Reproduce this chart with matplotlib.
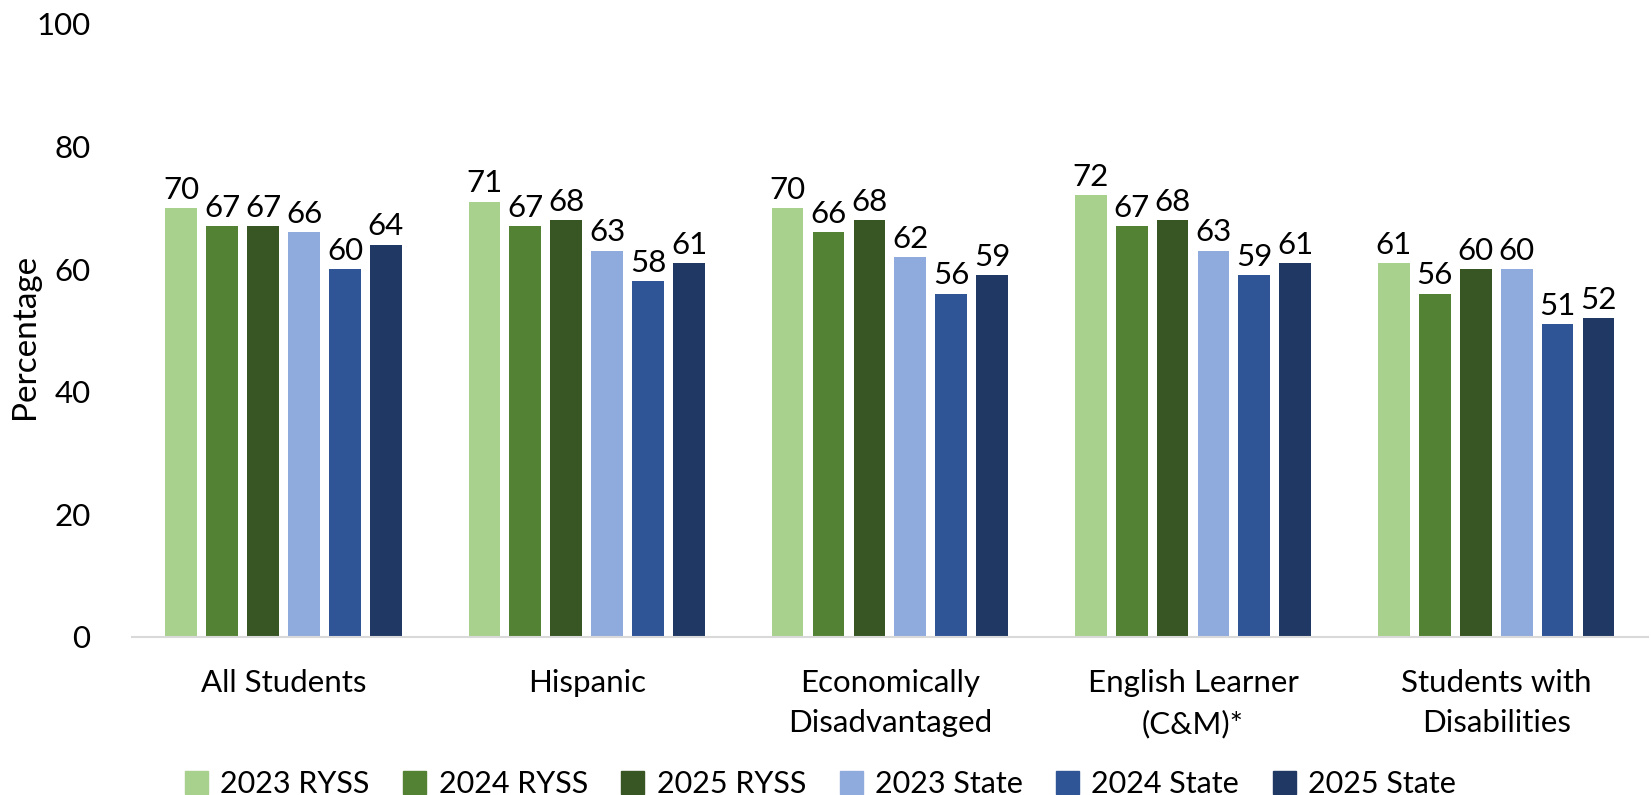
import numpy as np
import matplotlib.pyplot as plt
from matplotlib.patches import Patch

categories = ["All Students", "Hispanic", "Economically\nDisadvantaged",
              "English Learner\n(C&M)*", "Students with\nDisabilities"]
series_names = ["2023 RYSS", "2024 RYSS", "2025 RYSS",
                "2023 State", "2024 State", "2025 State"]
ryss_2023 = [70, 71, 70, 72, 61]
ryss_2024 = [67, 67, 66, 67, 56]
ryss_2025 = [67, 68, 68, 68, 60]
state_2023 = [66, 63, 62, 63, 60]
state_2024 = [60, 58, 56, 59, 51]
state_2025 = [64, 61, 59, 61, 52]
values = [ryss_2023, ryss_2024, ryss_2025, state_2023, state_2024, state_2025]
colors = ["#A9D18E", "#548235", "#375623", "#8FAADC", "#2F5597", "#203864"]

plt.rcParams["font.family"] = ["Lato", "DejaVu Sans"]

fig = plt.figure(figsize=(16.51, 7.95), dpi=100)
ax = fig.add_axes([0.08, 0.199, 0.918, 0.771])

x = np.arange(len(categories))
pitch = 0.135
width = 0.105
for i, (name, vals, c) in enumerate(zip(series_names, values, colors)):
    pos = x + (i - 2.5) * pitch
    bars = ax.bar(pos, vals, width=width, color=c, label=name)
    for b, v in zip(bars, vals):
        ax.annotate(str(v), (b.get_x() + b.get_width() / 2, v),
                    textcoords="offset points", xytext=(0, 3),
                    ha="center", va="bottom", fontsize=22.5)

ax.set_xlim(-0.5, len(categories) - 0.5)
ax.set_ylim(0, 100)
ax.set_yticks(range(0, 101, 20))
ax.set_xticks(x)
ax.set_xticklabels(categories, fontsize=22.5, linespacing=1.55)
ax.tick_params(axis="y", labelsize=22.5, length=0, pad=30)
ax.tick_params(axis="x", length=0, pad=23)
for s in ["top", "right", "left"]:
    ax.spines[s].set_visible(False)
ax.spines["bottom"].set_color("#D9D9D9")
ax.spines["bottom"].set_linewidth(1.5)
ax.set_ylabel("Percentage", fontsize=24)
ax.yaxis.set_label_coords(-0.061, 0.49)

handles = [Patch(color=c) for c in colors]
fig.legend(handles, series_names, loc="center", ncol=6,
           bbox_to_anchor=(0.497, 1 - 784 / 795), frameon=False, fontsize=22,
           handlelength=0.75, handleheight=0.75, handletextpad=0.4,
           columnspacing=1.1)

fig.savefig("out.png", dpi=100)
